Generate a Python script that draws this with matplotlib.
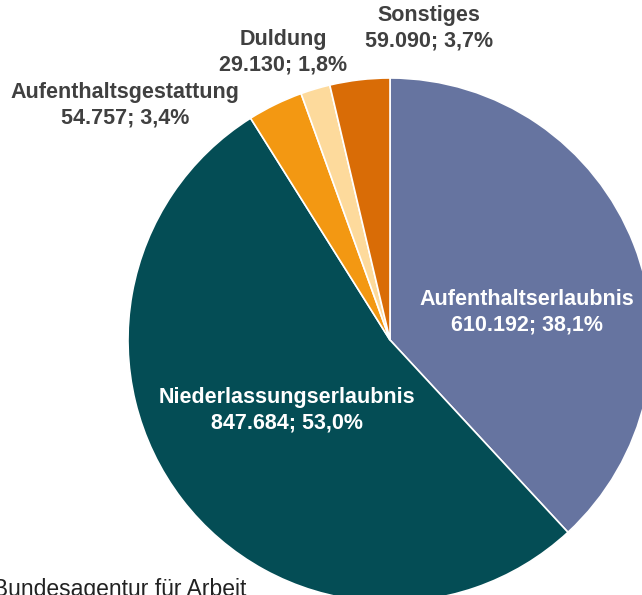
import matplotlib
matplotlib.use('Agg')
import matplotlib.pyplot as plt

# Ausländische Beschäftigte nach Aufenthaltstitel
categories = ['Aufenthaltserlaubnis', 'Niederlassungserlaubnis', 'Aufenthaltsgestattung',
              'Duldung', 'Sonstiges']
values = [610192, 847684, 54757, 29130, 59090]
shares = ['38,1%', '53,0%', '3,4%', '1,8%', '3,7%']
colors = ['#6674A0', '#044D55', '#F39812', '#FDDA9C', '#D96C06']

plt.rcParams['font.family'] = ['Liberation Sans', 'DejaVu Sans']

fig = plt.figure(figsize=(6.42, 5.95), dpi=100)
W, H = 642, 595
cx, cy, r = 390, 340, 262
ax = fig.add_axes([(cx - r) / W, (H - cy - r) / H, 2 * r / W, 2 * r / H])

ax.pie(values, colors=colors, startangle=90, counterclock=False, radius=1,
       wedgeprops=dict(edgecolor='white', linewidth=1.2))
ax.set_xlim(-1, 1)
ax.set_ylim(-1, 1)
ax.set_aspect('equal')
ax.axis('off')

def fmt(v):
    return f'{v:,}'.replace(',', '.')

# label positions (pixel) and colours
label_pos = [(527, 312), (287, 410), (125, 105), (283, 52), (429, 28)]
label_col = ['white', 'white', '#404040', '#404040', '#404040']

for name, v, s, (px, py), c in zip(categories, values, shares, label_pos, label_col):
    x = (px - cx) / r
    y = (cy - py) / r
    ax.text(x, y, f'{name}\n{fmt(v)}; {s}', ha='center', va='center',
            fontsize=15.5, fontweight='bold', color=c, linespacing=1.3,
            clip_on=False)

fig.text(246 / W, -1 / H, 'Quelle: Bundesagentur für Arbeit', ha='right',
         va='baseline', fontsize=16.5, color='#222222')

fig.savefig('out.png', dpi=100)
